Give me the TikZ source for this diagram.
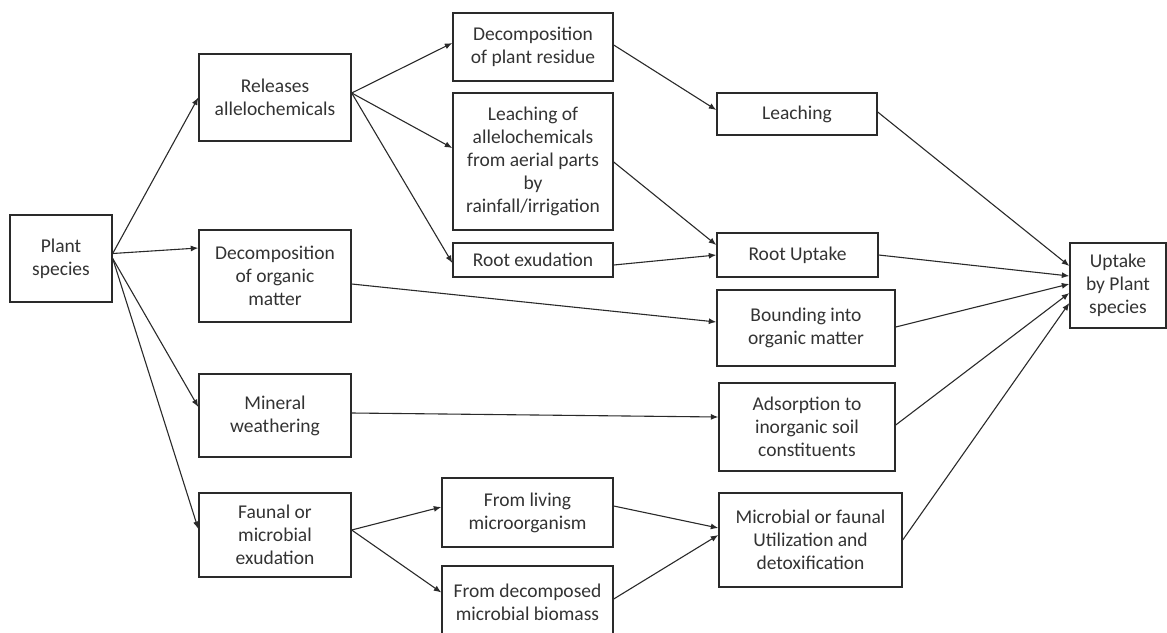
\documentclass[tikz,border=0pt]{standalone}
\usepackage{fontspec}
\setmainfont{Carlito}
\usetikzlibrary{arrows.meta}
\definecolor{ln}{HTML}{2A2A2A}
\definecolor{tx}{HTML}{333333}
\tikzset{
  box/.style={draw=ln, line width=1.4pt, inner sep=0pt, align=center, text=tx,
    font=\fontsize{19.5}{23}\selectfont},
  conn/.style={draw=ln, line width=1.1pt, -{Latex[length=7.5pt,width=6pt]}}
}
\begin{document}
\begin{tikzpicture}[x=1pt,y=-1pt]
\useasboundingbox (0,0) rectangle (1167,632);
\node[box, minimum width=102pt, minimum height=87pt] (plant) at (61,258.5) {Plant\\species};
\node[box, minimum width=152pt, minimum height=87pt] (rel) at (275,97.5) {Releases\\allelochemicals};
\node[box, minimum width=152pt, minimum height=92pt] (dom) at (275,276) {Decomposition\\of organic\\matter};
\node[box, minimum width=152pt, minimum height=83pt] (min) at (275,415.5) {Mineral\\weathering};
\node[box, minimum width=152pt, minimum height=84pt] (fau) at (275,535) {Faunal or\\microbial\\exudation};
\node[box, minimum width=160pt, minimum height=68pt] (dpr) at (533,47) {Decomposition\\of plant residue};
\node[box, minimum width=160pt, minimum height=137pt] (lea) at (533,161.5) {Leaching of\\allelochemicals\\from aerial parts\\by\\rainfall/irrigation};
\node[box, minimum width=160pt, minimum height=34pt] (rex) at (533,260) {Root exudation};
\node[box, minimum width=171pt, minimum height=69pt] (liv) at (527.5,512.5) {From living\\microorganism};
\node[box, minimum width=171pt, minimum height=72pt] (dec) at (527.5,602) {From decomposed\\microbial biomass};
\node[box, minimum width=160pt, minimum height=42pt] (leach) at (797,114) {Leaching};
\node[box, minimum width=161pt, minimum height=44pt] (ru) at (797.5,255) {Root Uptake};
\node[box, minimum width=178pt, minimum height=76pt] (bou) at (806,328) {Bounding into\\organic matter};
\node[box, minimum width=176pt, minimum height=88pt] (ads) at (807,427) {Adsorption to\\inorganic soil\\constituents};
\node[box, minimum width=183pt, minimum height=94pt] (mic) at (810.5,540) {Microbial or faunal\\Utilization and\\detoxification};
\node[box, minimum width=96pt, minimum height=85pt] (up) at (1118,285.5) {Uptake\\by Plant\\species};

\draw[conn] ([yshift=5pt]plant.east) -- (rel.west);
\draw[conn] ([yshift=5pt]plant.east) -- ([yshift=28pt]dom.west);
\draw[conn] (plant.east) -- ([yshift=8.5pt]min.west);
\draw[conn] (plant.east) -- ([yshift=6pt]fau.west);

\draw[conn] ([yshift=4.5pt]rel.east) -- ([yshift=4pt]dpr.west);
\draw[conn] ([yshift=4.5pt]rel.east) -- ([yshift=13.5pt]lea.west);
\draw[conn] ([yshift=4.5pt]rel.east) -- ([yshift=-3pt]rex.west);

\draw[conn] ([yshift=2pt]dpr.east) -- ([yshift=4pt]leach.west);
\draw[conn] ([yshift=-0.5pt]lea.east) -- ([yshift=10pt]ru.west);
\draw[conn] ([yshift=-5pt]rex.east) -- (ru.west);
\draw[conn] ([yshift=-8pt]dom.east) -- ([yshift=6pt]bou.west);
\draw[conn] ([yshift=2.5pt]min.east) -- ([yshift=10pt]ads.west);

\draw[conn] ([yshift=5pt]fau.east) -- ([yshift=5.5pt]liv.west);
\draw[conn] ([yshift=5pt]fau.east) -- ([yshift=9.5pt]dec.west);
\draw[conn] ([yshift=6.5pt]liv.east) -- ([yshift=12pt]mic.west);
\draw[conn] ([yshift=3pt]dec.east) -- ([yshift=5pt]mic.west);

\draw[conn] ([yshift=2pt]leach.east) -- ([yshift=19.5pt]up.west);
\draw[conn] (ru.east) -- ([yshift=9.5pt]up.west);
\draw[conn] ([yshift=1pt]bou.east) -- ([yshift=1.5pt]up.west);
\draw[conn] ([yshift=2pt]ads.east) -- ([yshift=-7.5pt]up.west);
\draw[conn] (mic.east) -- ([yshift=-17.5pt]up.west);
\end{tikzpicture}
\end{document}
